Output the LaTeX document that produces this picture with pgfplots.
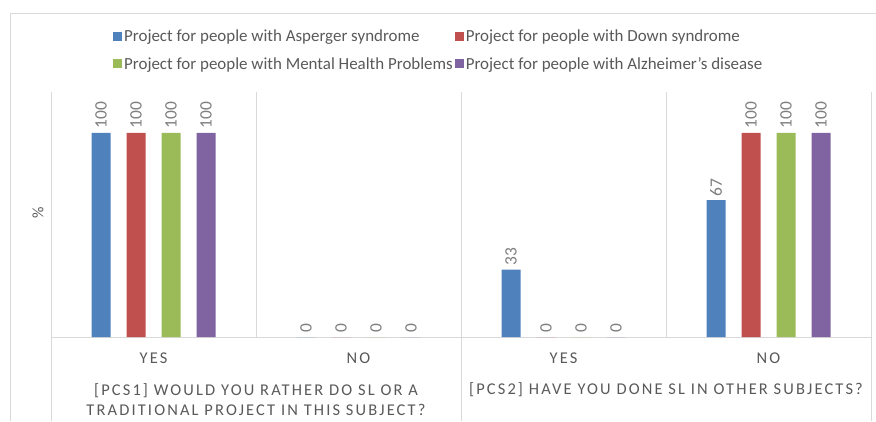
\documentclass[border=0pt]{standalone}
\usepackage{pgfplots}
\pgfplotsset{compat=1.18}
\usepackage{fontspec}
\setmainfont{Carlito}
\newfontfamily\spaced[LetterSpace=13]{Carlito}
\definecolor{cblue}{HTML}{4F81BD}
\definecolor{cred}{HTML}{C0504D}
\definecolor{cgreen}{HTML}{9BBB59}
\definecolor{cpurple}{HTML}{8064A2}
\definecolor{txt}{HTML}{595959}
\definecolor{lbl}{HTML}{7F7F7F}
\definecolor{gridc}{HTML}{D9D9D9}
\begin{document}
\begin{tikzpicture}[x=1bp,y=1bp]
\useasboundingbox (0,0) rectangle (876,-421);
\draw[gridc, line width=1bp] (10,-421) -- (10,-13) -- (876,-13);
\begin{axis}[
  at={(51bp,-337bp)}, anchor=south west,
  scale only axis, width=820bp, height=245bp,
  xmin=-0.5, xmax=3.5, ymin=0, ymax=120,
  clip=false,
  axis line style={draw=none},
  ytick=\empty,
  xtick={0,1,2,3},
  xticklabels={YES,NO,YES,NO},
  major tick length=0pt,
  xticklabel style={font=\spaced\fontsize{16.5}{18}\selectfont, text=txt, yshift=-12bp},
  ybar=16bp, bar width=19bp,
  nodes near coords,
  /pgf/number format/assume math mode=true,
  every node near coord/.append style={rotate=90, anchor=west, font=\fontsize{17.5}{19}\selectfont, text=lbl, inner sep=4bp},
  legend columns=2,
  legend cell align=left,
  legend image code/.code={\fill[#1] (0bp,-4.5bp) rectangle (9bp,4.5bp);},
  legend style={at={(0.0756,1.262)}, anchor=north west, draw=none, fill=none,
    font=\fontsize{17}{19}\selectfont, text=txt, inner sep=0pt,
    /tikz/every even column/.append style={column sep=0bp},
    row sep=10bp},
]
\draw[gridc, line width=1bp] (axis cs:-0.5,120) -- (axis cs:-0.5,-41.2);
\draw[gridc, line width=1bp] (axis cs:3.5,120) -- (axis cs:3.5,-41.2);
\draw[gridc, line width=1bp] (axis cs:1.5,120) -- (axis cs:1.5,-41.2);
\draw[gridc, line width=1bp] (axis cs:0.5,120) -- (axis cs:0.5,0);
\draw[gridc, line width=1bp] (axis cs:2.5,120) -- (axis cs:2.5,0);
\draw[gridc, line width=1bp] (axis cs:-0.5,0) -- (axis cs:3.5,0);
\addplot[fill=cblue, draw=none] coordinates {(0,100) (1,0) (2,33) (3,67)};
\addlegendentry{Project for people with Asperger syndrome}
\addplot[fill=cred, draw=none] coordinates {(0,100) (1,0) (2,0) (3,100)};
\addlegendentry{Project for people with Down syndrome}
\addplot[fill=cgreen, draw=none] coordinates {(0,100) (1,0) (2,0) (3,100)};
\addlegendentry{Project for people with Mental Health Problems}
\addplot[fill=cpurple, draw=none] coordinates {(0,100) (1,0) (2,0) (3,100)};
\addlegendentry{Project for people with Alzheimer’s disease}
\end{axis}
\node[rotate=90, text=txt, font=\fontsize{16}{18}\selectfont] at (38,-213) {\%};
\node[text=txt, align=center, font=\spaced\fontsize{16.5}{20}\selectfont] at (256,-400) {[PCS1] WOULD YOU RATHER DO SL OR A\\TRADITIONAL PROJECT IN THIS SUBJECT?};
\node[text=txt, font=\spaced\fontsize{16.5}{20}\selectfont] at (666,-390) {[PCS2] HAVE YOU DONE SL IN OTHER SUBJECTS?};
\end{tikzpicture}
\end{document}
